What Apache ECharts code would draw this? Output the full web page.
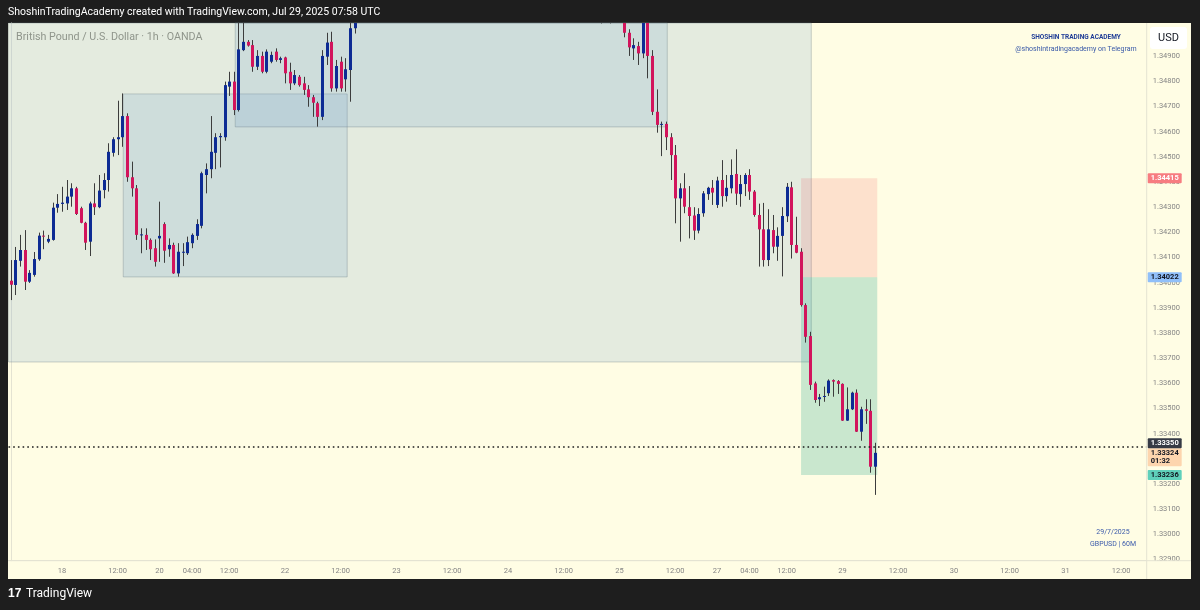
<!DOCTYPE html>
<html>
<head>
<meta charset="utf-8">
<title>GBPUSD 1h - OANDA</title>
<script src="https://cdn.jsdelivr.net/npm/echarts@6.0.0/dist/echarts.min.js"></script>
<style>
  html, body { margin: 0; padding: 0; background: #1e1e1e; }
  #main { width: 1200px; height: 610px; }
</style>
</head>
<body>
<div id="main"></div>
<script>
// hourly candles per session, each row: [open, close, low, high]
var jul17 = [
  [1.34008, 1.33992, 1.33931, 1.34090], [1.33991, 1.34090, 1.33951, 1.34142], [1.34087, 1.34130, 1.34064, 1.34190],
  [1.34130, 1.34004, 1.33971, 1.34209], [1.34004, 1.34039, 1.33999, 1.34050], [1.34031, 1.34094, 1.34024, 1.34122],
  [1.34093, 1.34187, 1.34087, 1.34199], [1.34187, 1.34183, 1.34133, 1.34207], [1.34163, 1.34174, 1.34157, 1.34190],
  [1.34170, 1.34298, 1.34167, 1.34318], [1.34298, 1.34313, 1.34278, 1.34352]
];
var jul18 = [
  [1.34313, 1.34318, 1.34282, 1.34381], [1.34315, 1.34342, 1.34289, 1.34408], [1.34342, 1.34375, 1.34302, 1.34395],
  [1.34375, 1.34273, 1.34269, 1.34381], [1.34296, 1.34238, 1.34236, 1.34302], [1.34238, 1.34159, 1.34130, 1.34242],
  [1.34163, 1.34315, 1.34106, 1.34322], [1.34315, 1.34300, 1.34269, 1.34395], [1.34300, 1.34366, 1.34296, 1.34428],
  [1.34368, 1.34408, 1.34335, 1.34435], [1.34408, 1.34520, 1.34362, 1.34554], [1.34516, 1.34570, 1.34501, 1.34578],
  [1.34570, 1.34578, 1.34507, 1.34723], [1.34578, 1.34662, 1.34540, 1.34752], [1.34662, 1.34419, 1.34401, 1.34673],
  [1.34419, 1.34375, 1.34342, 1.34481], [1.34375, 1.34190, 1.34170, 1.34388], [1.34188, 1.34192, 1.34117, 1.34216],
  [1.34190, 1.34170, 1.34130, 1.34216], [1.34170, 1.34133, 1.34090, 1.34176], [1.34137, 1.34083, 1.34064, 1.34172]
];
var jul21 = [
  [1.34176, 1.34186, 1.34083, 1.34322], [1.34233, 1.34127, 1.34079, 1.34240], [1.34133, 1.34150, 1.34103, 1.34176],
  [1.34150, 1.34037, 1.34035, 1.34159], [1.34037, 1.34123, 1.34024, 1.34157], [1.34119, 1.34123, 1.34066, 1.34157],
  [1.34117, 1.34161, 1.34110, 1.34183], [1.34157, 1.34190, 1.34137, 1.34196], [1.34186, 1.34233, 1.34170, 1.34252],
  [1.34226, 1.34435, 1.34216, 1.34441], [1.34428, 1.34451, 1.34355, 1.34474], [1.34451, 1.34520, 1.34415, 1.34662],
  [1.34516, 1.34578, 1.34451, 1.34594], [1.34578, 1.34583, 1.34458, 1.34594], [1.34578, 1.34785, 1.34564, 1.34799],
  [1.34779, 1.34799, 1.34742, 1.34838], [1.34799, 1.34686, 1.34666, 1.34838], [1.34686, 1.34927, 1.34680, 1.35040],
  [1.34924, 1.34957, 1.34920, 1.35035], [1.34957, 1.34942, 1.34938, 1.34964], [1.34944, 1.34858, 1.34838, 1.34964],
  [1.34858, 1.34901, 1.34845, 1.34924], [1.34901, 1.34838, 1.34832, 1.34918], [1.34838, 1.34918, 1.34832, 1.34927],
  [1.34878, 1.34905, 1.34872, 1.34918], [1.34918, 1.34885, 1.34878, 1.34931], [1.34885, 1.34892, 1.34872, 1.34898]
];
var jul22 = [
  [1.34895, 1.34832, 1.34792, 1.34898], [1.34838, 1.34792, 1.34766, 1.34874], [1.34792, 1.34825, 1.34785, 1.34845],
  [1.34818, 1.34785, 1.34779, 1.34825], [1.34792, 1.34766, 1.34746, 1.34818], [1.34768, 1.34737, 1.34699, 1.34785],
  [1.34737, 1.34715, 1.34659, 1.34746], [1.34713, 1.34659, 1.34620, 1.34719], [1.34659, 1.34901, 1.34646, 1.34924],
  [1.34898, 1.34954, 1.34865, 1.34993], [1.34957, 1.34772, 1.34759, 1.34997], [1.34772, 1.34861, 1.34759, 1.34885],
  [1.34878, 1.34772, 1.34759, 1.34898], [1.34808, 1.34848, 1.34759, 1.34892], [1.34845, 1.35011, 1.34719, 1.35080],
  [1.35011, 1.35080, 1.34990, 1.35120], [1.35080, 1.35120, 1.35050, 1.35160], [1.35120, 1.35100, 1.35070, 1.35150],
  [1.35100, 1.35150, 1.35080, 1.35190], [1.35150, 1.35180, 1.35130, 1.35210], [1.35180, 1.35160, 1.35140, 1.35200],
  [1.35160, 1.35210, 1.35150, 1.35240], [1.35210, 1.35250, 1.35190, 1.35280], [1.35250, 1.35230, 1.35210, 1.35270]
];
var jul23 = [
  [1.35230, 1.35280, 1.35220, 1.35310], [1.35280, 1.35340, 1.35260, 1.35370], [1.35340, 1.35310, 1.35290, 1.35380],
  [1.35310, 1.35390, 1.35300, 1.35420], [1.35390, 1.35450, 1.35370, 1.35480], [1.35450, 1.35420, 1.35390, 1.35490],
  [1.35420, 1.35510, 1.35400, 1.35540], [1.35510, 1.35560, 1.35480, 1.35600], [1.35560, 1.35530, 1.35490, 1.35590],
  [1.35530, 1.35620, 1.35510, 1.35650], [1.35620, 1.35700, 1.35600, 1.35740], [1.35700, 1.35660, 1.35620, 1.35730],
  [1.35660, 1.35740, 1.35640, 1.35780], [1.35740, 1.35790, 1.35700, 1.35830], [1.35790, 1.35750, 1.35710, 1.35820],
  [1.35750, 1.35810, 1.35730, 1.35850], [1.35810, 1.35780, 1.35760, 1.35840], [1.35780, 1.35760, 1.35740, 1.35800],
  [1.35760, 1.35790, 1.35750, 1.35810], [1.35790, 1.35770, 1.35760, 1.35800], [1.35770, 1.35750, 1.35740, 1.35790],
  [1.35750, 1.35780, 1.35740, 1.35800], [1.35780, 1.35760, 1.35750, 1.35790], [1.35760, 1.35790, 1.35750, 1.35810]
];
var jul24 = [
  [1.35790, 1.35810, 1.35770, 1.35840], [1.35810, 1.35850, 1.35790, 1.35880], [1.35850, 1.35820, 1.35800, 1.35890],
  [1.35820, 1.35780, 1.35750, 1.35840], [1.35780, 1.35720, 1.35700, 1.35800], [1.35720, 1.35680, 1.35640, 1.35750],
  [1.35680, 1.35720, 1.35650, 1.35760], [1.35720, 1.35640, 1.35610, 1.35740], [1.35640, 1.35590, 1.35560, 1.35670],
  [1.35590, 1.35520, 1.35480, 1.35620], [1.35520, 1.35560, 1.35490, 1.35600], [1.35560, 1.35470, 1.35430, 1.35590],
  [1.35470, 1.35410, 1.35380, 1.35500], [1.35410, 1.35380, 1.35340, 1.35450], [1.35380, 1.35300, 1.35260, 1.35410],
  [1.35300, 1.35330, 1.35270, 1.35370], [1.35330, 1.35270, 1.35240, 1.35350], [1.35270, 1.35210, 1.35180, 1.35300],
  [1.35210, 1.35240, 1.35170, 1.35270], [1.35240, 1.35180, 1.35150, 1.35260], [1.35180, 1.35130, 1.35030, 1.35200],
  [1.35130, 1.35150, 1.35100, 1.35180], [1.35150, 1.35110, 1.35030, 1.35170], [1.35110, 1.35090, 1.35060, 1.35140]
];
var jul25 = [
  [1.35090, 1.35060, 1.35040, 1.35110], [1.35060, 1.34993, 1.34975, 1.35080], [1.34993, 1.34935, 1.34901, 1.35007],
  [1.34931, 1.34944, 1.34885, 1.34971], [1.34940, 1.34911, 1.34865, 1.34957], [1.34911, 1.35040, 1.34892, 1.35070],
  [1.35040, 1.34901, 1.34812, 1.35070], [1.34901, 1.34679, 1.34666, 1.34924], [1.34679, 1.34627, 1.34596, 1.34768],
  [1.34627, 1.34631, 1.34503, 1.34640], [1.34631, 1.34578, 1.34527, 1.34640], [1.34578, 1.34507, 1.34408, 1.34594],
  [1.34507, 1.34335, 1.34236, 1.34547], [1.34335, 1.34375, 1.34163, 1.34395], [1.34375, 1.34302, 1.34276, 1.34435],
  [1.34300, 1.34265, 1.34176, 1.34384], [1.34267, 1.34207, 1.34170, 1.34300], [1.34207, 1.34273, 1.34196, 1.34296],
  [1.34276, 1.34355, 1.34262, 1.34364], [1.34352, 1.34377, 1.34329, 1.34381], [1.34377, 1.34358, 1.34309, 1.34408]
];
var jul28 = [
  [1.34309, 1.34406, 1.34297, 1.34421], [1.34408, 1.34344, 1.34302, 1.34487], [1.34344, 1.34377, 1.34322, 1.34428],
  [1.34375, 1.34428, 1.34355, 1.34490], [1.34432, 1.34354, 1.34309, 1.34530], [1.34352, 1.34392, 1.34302, 1.34428],
  [1.34392, 1.34428, 1.34344, 1.34435], [1.34428, 1.34362, 1.34329, 1.34451], [1.34362, 1.34269, 1.34262, 1.34368],
  [1.34269, 1.34212, 1.34064, 1.34314], [1.34212, 1.34090, 1.34064, 1.34317], [1.34090, 1.34212, 1.34066, 1.34292],
  [1.34209, 1.34143, 1.34117, 1.34269], [1.34143, 1.34186, 1.34087, 1.34220], [1.34186, 1.34265, 1.34025, 1.34300],
  [1.34264, 1.34381, 1.34241, 1.34396], [1.34379, 1.34150, 1.34096, 1.34401], [1.34150, 1.34119, 1.34117, 1.34262],
  [1.34123, 1.33911, 1.33905, 1.34137], [1.33911, 1.33785, 1.33762, 1.33918], [1.33788, 1.33594, 1.33574, 1.33805],
  [1.33600, 1.33534, 1.33523, 1.33607], [1.33537, 1.33545, 1.33510, 1.33558], [1.33547, 1.33550, 1.33527, 1.33587],
  [1.33561, 1.33611, 1.33550, 1.33616], [1.33613, 1.33607, 1.33547, 1.33616], [1.33609, 1.33598, 1.33558, 1.33613]
];
var jul29 = [
  [1.33598, 1.33452, 1.33451, 1.33600], [1.33452, 1.33497, 1.33451, 1.33584], [1.33497, 1.33563, 1.33494, 1.33567],
  [1.33563, 1.33408, 1.33407, 1.33576], [1.33408, 1.33497, 1.33372, 1.33507], [1.33497, 1.33491, 1.33439, 1.33537],
  [1.33491, 1.33269, 1.33245, 1.33537], [1.33269, 1.33324, 1.33157, 1.33364]
];

// time axis: hourly slots (weekend removed) incl. empty future space
var slotCount = 245;
var tickIndex = [11, 23, 32, 39, 47, 59, 71, 83, 95, 107, 119, 131, 143, 152, 159, 167, 179, 191, 203, 215, 227, 239];
var tickText = ['18', '12:00', '20', '04:00', '12:00', '22', '12:00', '23', '12:00', '24', '12:00', '25',
                '12:00', '27', '04:00', '12:00', '29', '12:00', '30', '12:00', '31', '12:00'];
var priceTicks = [1.329, 1.330, 1.331, 1.332, 1.333, 1.334, 1.335, 1.336, 1.337, 1.338, 1.339, 1.340,
                  1.341, 1.342, 1.343, 1.344, 1.345, 1.346, 1.347, 1.348, 1.349];
var priceMin = 1.328955, priceMax = 1.350318;
var slotMin = -0.5, slotMax = slotCount - 0.5;

// drawn rectangles: [fromSlot, toSlot, lowPrice, highPrice]
var rangeBoxes = [
  [slotMin, 172.3, 1.33685, priceMax],
  [24.2, 72.4, 1.34023, 1.34750],
  [48.3, 141.3, 1.34619, priceMax]
];
// short position tool
var posFrom = 170.1, posTo = 186.5;
var posStop = 1.34415, posEntry = 1.34022, posTarget = 1.33236;
var lineLevel = 1.33350, lastPrice = 1.33324, countdown = '01:32';

var candles = [];
[jul17, jul18, jul21, jul22, jul23, jul24, jul25, jul28, jul29].forEach(function (s) {
  s.forEach(function (r) { candles.push([candles.length, r[0], r[1], r[2], r[3]]); });
});
var slotLabels = [];
for (var k = 0; k < slotCount; k++) slotLabels.push('');
tickIndex.forEach(function (idx, j) { slotLabels[idx] = tickText[j]; });

var upColor = '#0d2b94', downColor = '#d2145c', wickColor = '#3c3c3c';

function drawCandle(params, api) {
  var i = api.value(0), o = api.value(1), c = api.value(2), lo = api.value(3), hi = api.value(4);
  var cs = params.coordSys;
  var top = cs.y, bottom = cs.y + cs.height;
  var clampY = function (v) { return Math.max(top, Math.min(bottom, v)); };
  var x = Math.round(api.coord([i, o])[0]);
  var yO = api.coord([i, o])[1], yC = api.coord([i, c])[1];
  var yH = clampY(api.coord([i, hi])[1]), yL = clampY(api.coord([i, lo])[1]);
  var bTop = clampY(Math.min(yO, yC)), bBot = clampY(Math.max(yO, yC));
  var kids = [];
  if (yL > yH) {
    kids.push({ type: 'line', shape: { x1: x + 0.5, y1: yH, x2: x + 0.5, y2: yL },
      style: { stroke: wickColor, lineWidth: 1 } });
  }
  if (bBot > top) {
    kids.push({ type: 'rect', shape: { x: x - 1, y: bTop, width: 3, height: Math.max(bBot - bTop, 1) },
      style: { fill: c >= o ? upColor : downColor } });
  }
  return { type: 'group', children: kids };
}

function axisTag(value, text, bg, fg, offset) {
  return {
    yAxis: value,
    label: {
      show: true, position: 'end', distance: 1, formatter: text, offset: offset || [0, 0],
      backgroundColor: bg, color: fg, padding: [1, 3, 1, 3], borderRadius: 1,
      fontSize: 7.5, fontWeight: 'bold', fontFamily: 'Roboto', lineHeight: 8
    }
  };
}

var chart = echarts.init(document.getElementById('main'));
var boxStyle = { color: 'rgba(120,165,205,0.2)', borderColor: 'rgba(110,125,135,0.35)', borderWidth: 1 };

chart.setOption({
  backgroundColor: '#1e1e1e',
  animation: false,
  grid: { left: 8.5, right: 53.3, top: 23, bottom: 49.3 },
  xAxis: [{
    type: 'category', data: slotLabels, boundaryGap: true,
    axisLine: { lineStyle: { color: '#e4e3d2' } },
    axisTick: { show: false },
    axisLabel: {
      interval: function (idx) { return slotLabels[idx] !== ''; },
      color: '#858585', fontSize: 7.5, fontFamily: 'Roboto', margin: 6
    },
    splitLine: { show: false }
  }, {
    type: 'value', min: slotMin, max: slotMax, show: false
  }],
  yAxis: {
    type: 'value', position: 'right', min: priceMin, max: priceMax, scale: true,
    axisLine: { show: true, lineStyle: { color: '#e4e3d2' } },
    axisTick: { show: false },
    splitLine: { show: false },
    axisLabel: {
      customValues: priceTicks,
      formatter: function (v) { return v.toFixed(5); },
      color: '#858585', fontSize: 7.5, fontFamily: 'Roboto', margin: 6
    }
  },
  graphic: [
    { type: 'rect', z: -10, shape: { x: 8, y: 23, width: 1183, height: 556 }, style: { fill: '#fffde4' } },
    { type: 'line', z: 10, shape: { x1: 1146.7, y1: 23, x2: 1146.7, y2: 579 }, style: { stroke: '#e4e3d2', lineWidth: 1 } },
    { type: 'line', z: 10, shape: { x1: 8, y1: 560.7, x2: 1191, y2: 560.7 }, style: { stroke: '#e4e3d2', lineWidth: 1 } },
    { type: 'text', z: 20, x: 8, y: 6.5, style: { text: 'ShoshinTradingAcademy created with TradingView.com, Jul 29, 2025 07:58 UTC',
      fill: '#ffffff', font: '10.5px Roboto' } },
    { type: 'text', z: 20, x: 16, y: 31.5, style: { text: 'British Pound / U.S. Dollar · 1h · OANDA',
      fill: '#8f958b', font: '10.7px Roboto' } },
    { type: 'text', z: 20, x: 1076, y: 37.5, style: { text: 'SHOSHIN TRADING ACADEMY', fill: '#1f3c96',
      font: 'bold 6.5px Roboto', align: 'center', verticalAlign: 'middle' } },
    { type: 'text', z: 20, x: 1076, y: 49.5, style: { text: '@shoshintradingacademy on Telegram', fill: '#3a5aa8',
      font: '7px Roboto', align: 'center', verticalAlign: 'middle' } },
    { type: 'text', z: 20, x: 1113, y: 532.5, style: { text: '29/7/2025', fill: '#3b5bab',
      font: '7px Roboto', align: 'center', verticalAlign: 'middle' } },
    { type: 'text', z: 20, x: 1113, y: 544.5, style: { text: 'GBPUSD | 60M', fill: '#3b5bab',
      font: '7px Roboto', align: 'center', verticalAlign: 'middle' } },
    { type: 'rect', z: 20, shape: { x: 1150, y: 27, width: 37, height: 22, r: 3 }, style: { fill: '#ffffff' } },
    { type: 'text', z: 21, x: 1168.5, y: 38.5, style: { text: 'USD', fill: '#131722',
      font: '11px Roboto', align: 'center', verticalAlign: 'middle' } },
    { type: 'text', z: 20, x: 8, y: 594, style: { text: '17', fill: '#ffffff',
      font: 'bold 12px "Liberation Sans"', verticalAlign: 'middle' } },
    { type: 'text', z: 20, x: 26, y: 594, style: { text: 'TradingView', fill: '#ffffff',
      font: '12px Roboto', verticalAlign: 'middle' } }
  ],
  series: [{
    type: 'line', xAxisIndex: 1, data: [], z: 1, silent: true,
    markArea: {
      silent: true,
      data: rangeBoxes.map(function (b) {
        return [{ xAxis: b[0], yAxis: b[2], itemStyle: boxStyle }, { xAxis: b[1], yAxis: b[3] }];
      }).concat([
        [{ xAxis: posFrom, yAxis: posStop, itemStyle: { color: 'rgba(242,54,69,0.14)' } }, { xAxis: posTo, yAxis: posEntry }],
        [{ xAxis: posFrom, yAxis: posEntry, itemStyle: { color: 'rgba(8,153,129,0.22)' } }, { xAxis: posTo, yAxis: posTarget }]
      ])
    }
  }, {
    type: 'custom', xAxisIndex: 1, z: 3,
    renderItem: drawCandle,
    encode: { x: 0, y: [1, 2, 3, 4] },
    data: candles
  }, {
    type: 'line', xAxisIndex: 1, data: [], z: 5, silent: true,
    markLine: {
      silent: true, symbol: 'none', animation: false, precision: 5,
      lineStyle: { color: 'rgba(0,0,0,0)', width: 0 },
      data: [
        axisTag(posStop, posStop.toFixed(5), '#f77c80', '#ffffff'),
        axisTag(posEntry, posEntry.toFixed(5), '#90bff9', '#131722'),
        axisTag(lastPrice, lastPrice.toFixed(5) + '\n' + countdown, '#fdd5ae', '#131722', [0, 4.5]),
        Object.assign(axisTag(lineLevel, lineLevel.toFixed(5), '#363a45', '#ffffff', [0, -3]),
          { lineStyle: { color: '#1c1c1c', width: 1.6, type: [1.6, 3.1] } }),
        axisTag(posTarget, posTarget.toFixed(5), '#5fd0bb', '#131722')
      ]
    }
  }]
});
</script>
</body>
</html>
